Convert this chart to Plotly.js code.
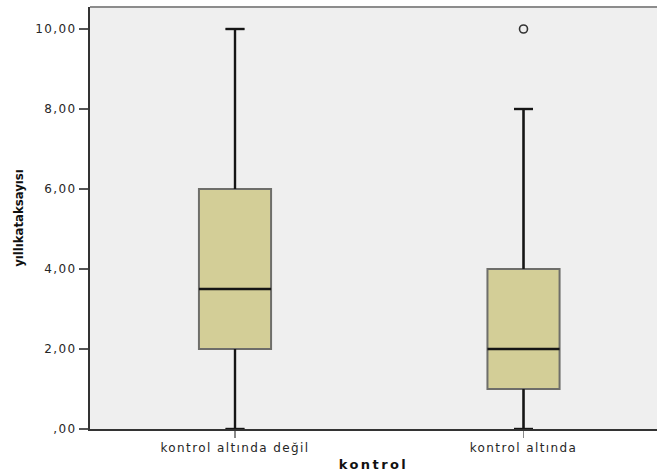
<!DOCTYPE html>
<html>
<head>
<meta charset="utf-8">
<script src="https://cdn.plot.ly/plotly-3.0.1.min.js"></script>
<style>
  html, body { margin: 0; padding: 0; background: #ffffff; }
  #chart { width: 657px; height: 476px; }
  /* wide, airy tick labels */
  #chart .xtick text, #chart .ytick text { letter-spacing: 1.4px; }
  #chart .xtitle { letter-spacing: 2.4px; }
</style>
</head>
<body>
<div id="chart"></div>
<script>
// Group labels and box summary statistics (yıllık atak sayısı by kontrol)
const categories = ["kontrol altında değil", "kontrol altında"];
const q1 = [2, 1];
const median = [3.5, 2];
const q3 = [6, 4];
const lowerWhisker = [0, 0];
const upperWhisker = [10, 8];
// Outlying observations: group index and value
const outlierGroup = [1];
const outlierValue = [10];

const yTickValues = [0, 2, 4, 6, 8, 10];
const yTickLabels = [",00", "2,00", "4,00", "6,00", "8,00", "10,00"];

const positions = categories.map((_, i) => i);
const boxWidth = 0.25;
const capHalf = 0.033;

const traces = [];

// Boxes with fill and grey outline
traces.push({
  type: "box",
  x: positions,
  q1: q1,
  median: median,
  q3: q3,
  lowerfence: lowerWhisker,
  upperfence: upperWhisker,
  width: boxWidth,
  whiskerwidth: 0.26,
  fillcolor: "#d3ce97",
  line: { color: "#6e6e6a", width: 2 },
  boxpoints: false,
  hoverinfo: "skip",
  showlegend: false
});

// Darker median bars and whiskers drawn over the boxes
const segX = [], segY = [];
positions.forEach((p, i) => {
  // median
  segX.push(p - boxWidth / 2, p + boxWidth / 2, null);
  segY.push(median[i], median[i], null);
  // upper whisker and cap
  segX.push(p, p, null, p - capHalf, p + capHalf, null);
  segY.push(q3[i], upperWhisker[i], null, upperWhisker[i], upperWhisker[i], null);
  // lower whisker and cap
  segX.push(p, p, null, p - capHalf, p + capHalf, null);
  segY.push(q1[i], lowerWhisker[i], null, lowerWhisker[i], lowerWhisker[i], null);
});
traces.push({
  type: "scatter",
  mode: "lines",
  x: segX,
  y: segY,
  line: { color: "#151515", width: 2.4 },
  hoverinfo: "skip",
  showlegend: false,
  cliponaxis: false
});

// Outliers
traces.push({
  type: "scatter",
  mode: "markers",
  x: outlierGroup,
  y: outlierValue,
  marker: { symbol: "circle-open", size: 8, color: "#333333", line: { width: 1.6, color: "#333333" } },
  hoverinfo: "skip",
  showlegend: false
});

const layout = {
  width: 657,
  height: 476,
  margin: { l: 90, r: 0, t: 7, b: 47 },
  paper_bgcolor: "#ffffff",
  plot_bgcolor: "#efefef",
  font: { family: "DejaVu Sans, Verdana, sans-serif", color: "#222222", size: 12 },
  showlegend: false,
  xaxis: {
    range: [-0.5026, 1.4627],
    tickvals: positions,
    ticktext: categories,
    ticks: "outside",
    ticklen: 7,
    tickwidth: 1.5,
    tickcolor: "#8a8a8a",
    tickfont: { family: "DejaVu Sans, Verdana, sans-serif", size: 12, color: "#262626" },
    showgrid: false,
    zeroline: false,
    showline: true,
    linecolor: "#333333",
    linewidth: 2,
    title: {
      text: "kontrol",
      font: { family: "DejaVu Sans, Verdana, sans-serif", size: 13, color: "#111111", weight: "bold" },
      standoff: 5
    },
    fixedrange: true
  },
  yaxis: {
    range: [0, 10.55],
    tickvals: yTickValues,
    ticktext: yTickLabels,
    ticks: "outside",
    ticklen: 9,
    tickwidth: 1.5,
    tickcolor: "#555555",
    tickfont: { family: "DejaVu Sans, Verdana, sans-serif", size: 12, color: "#262626" },
    showgrid: false,
    zeroline: false,
    showline: true,
    linecolor: "#333333",
    linewidth: 2,
    title: {
      text: "yıllıkataksayısı",
      font: { family: "Liberation Sans Narrow, DejaVu Sans Condensed, Arial, sans-serif", size: 13, color: "#111111", weight: "bold" },
      standoff: 16
    },
    fixedrange: true
  },
  shapes: [
    {
      type: "line", xref: "paper", yref: "paper",
      x0: 0, x1: 1, y0: 1, y1: 1,
      line: { color: "#8c8c8c", width: 2 }
    }
  ]
};

Plotly.newPlot("chart", traces, layout, { displayModeBar: false, staticPlot: true });
</script>
</body>
</html>
